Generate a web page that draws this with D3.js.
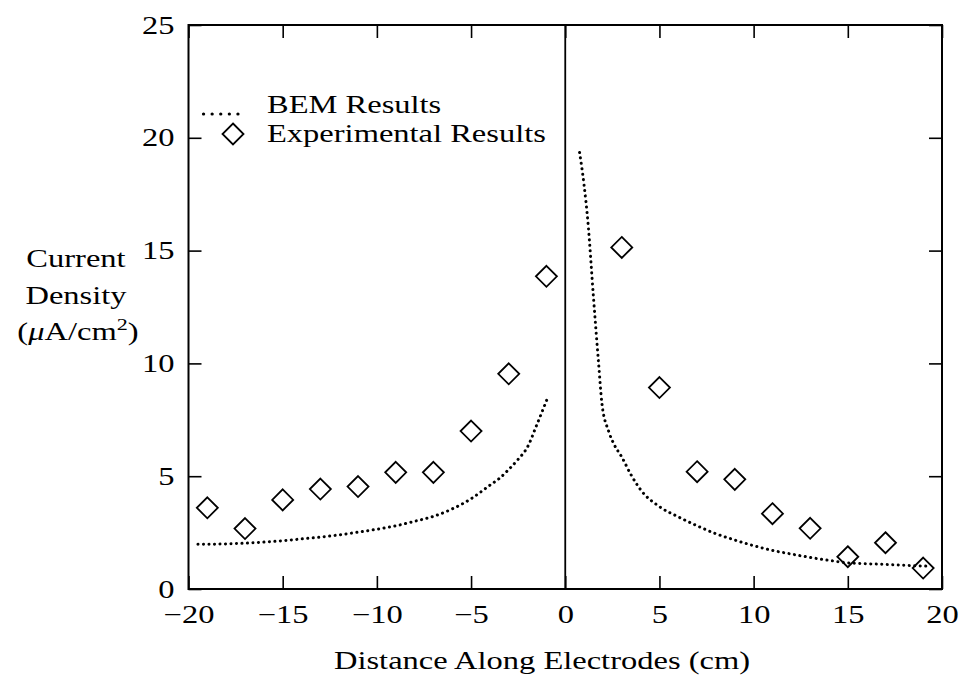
<!DOCTYPE html>
<html>
<head>
<meta charset="utf-8">
<script src="https://cdn.jsdelivr.net/npm/d3@7"></script>
<style>
  body { margin: 0; background: #fff; }
  svg text { font-family: "Liberation Serif", "DejaVu Serif", serif; fill: #000; }
</style>
</head>
<body>
<div id="chart"></div>
<script>
// Current density along electrodes: BEM model vs. measurements

var xTicks = [-20, -15, -10, -5, 0, 5, 10, 15, 20];
var yTicks = [0, 5, 10, 15, 20, 25];

// BEM results, left of the gap (x < 0)
var bemLeftX = [-19.5, -18, -17, -16, -15, -14, -13, -12, -11, -10, -9, -8, -7, -6, -5, -4, -3.5, -3, -2.5, -2, -1.5, -0.9];
var bemLeftY = [1.98, 2.0, 2.03, 2.08, 2.14, 2.22, 2.3, 2.4, 2.52, 2.65, 2.8, 3.0, 3.22, 3.55, 4.0, 4.6, 4.9, 5.3, 5.75, 6.3, 7.3, 8.55];

// BEM results, right of the gap (x > 0)
var bemRightX = [0.76, 1.0, 1.2, 1.5, 1.77, 1.95, 2.3, 2.6, 3, 3.5, 4, 5, 6, 7, 8, 9, 10, 11, 12, 13, 14, 15, 16, 17, 18, 19.3];
var bemRightY = [19.35, 17.9, 16.3, 12.9, 10.0, 8.2, 7.0, 6.4, 5.85, 5.05, 4.4, 3.65, 3.2, 2.8, 2.45, 2.17, 1.92, 1.71, 1.55, 1.4, 1.27, 1.16, 1.12, 1.09, 1.05, 1.01];

// Experimental results
var expX = [-19, -17, -15, -13, -11, -9, -7, -5, -3, -1, 3, 5, 7, 9, 11, 13, 15, 17, 19];
var expY = [3.6, 2.68, 3.95, 4.43, 4.54, 5.17, 5.17, 7.0, 9.54, 13.86, 15.14, 8.93, 5.2, 4.86, 3.34, 2.69, 1.43, 2.05, 0.93];

var totalW = 961, totalH = 679;
var margin = { top: 25, right: 19, bottom: 90, left: 188.5 };
var width = totalW - margin.left - margin.right;
var height = totalH - margin.top - margin.bottom;
var fontSize = "25px";
var stretch = 1.3;   // the scanned lettering is wide; widen glyphs to match

var svg = d3.select("#chart").append("svg")
    .attr("width", totalW)
    .attr("height", totalH);

var g = svg.append("g")
    .attr("transform", "translate(" + margin.left + "," + margin.top + ")");

var x = d3.scaleLinear().domain([-20, 20]).range([0, width]);
var y = d3.scaleLinear().domain([0, 25]).range([height, 0]);

var tickLen = 13;

// --- Axes (ticks point inward on all four sides) ---
g.append("g")
    .attr("transform", "translate(0," + height + ")")
    .call(d3.axisBottom(x).tickValues(xTicks).tickSizeInner(-tickLen).tickSizeOuter(0).tickPadding(16))
    .selectAll("text").style("font-size", fontSize);

g.append("g")
    .call(d3.axisLeft(y).tickValues(yTicks).tickSizeInner(-tickLen).tickSizeOuter(0).tickPadding(14))
    .selectAll("text").style("font-size", fontSize);

g.append("g")
    .call(d3.axisTop(x).tickValues(xTicks).tickSizeInner(-tickLen).tickSizeOuter(0).tickFormat(""));

g.append("g")
    .attr("transform", "translate(" + width + ",0)")
    .call(d3.axisRight(y).tickValues(yTicks).tickSizeInner(-tickLen).tickSizeOuter(0).tickFormat(""));

g.selectAll(".domain").remove();
g.selectAll(".tick line").attr("stroke", "#000").attr("stroke-width", 1.6);

// frame
g.append("rect")
    .attr("width", width)
    .attr("height", height)
    .attr("fill", "none")
    .attr("stroke", "#000")
    .attr("stroke-width", 2);

// zero line
g.append("line")
    .attr("x1", x(0)).attr("x2", x(0))
    .attr("y1", 0).attr("y2", height)
    .attr("stroke", "#000")
    .attr("stroke-width", 1.8);

// --- BEM dotted curves ---
var lineGen = d3.line()
    .x(function(d) { return x(d[0]); })
    .y(function(d) { return y(d[1]); })
    .curve(d3.curveMonotoneX);

[[bemLeftX, bemLeftY], [bemRightX, bemRightY]].forEach(function(s) {
    var pts = s[0].map(function(v, i) { return [v, s[1][i]]; });
    g.append("path")
        .datum(pts)
        .attr("fill", "none")
        .attr("stroke", "#000")
        .attr("stroke-width", 3)
        .attr("stroke-linecap", "round")
        .attr("stroke-dasharray", "0.1,5.4")
        .attr("d", lineGen);
});

// --- Experimental diamonds ---
var dHalf = 10.5;
function diamond(cx, cy) {
    return "M" + cx + "," + (cy - dHalf) + "L" + (cx + dHalf) + "," + cy +
        "L" + cx + "," + (cy + dHalf) + "L" + (cx - dHalf) + "," + cy + "Z";
}

g.selectAll(".exp")
    .data(expX.map(function(v, i) { return [v, expY[i]]; }))
    .enter().append("path")
    .attr("class", "exp")
    .attr("fill", "none")
    .attr("stroke", "#000")
    .attr("stroke-width", 1.8)
    .attr("d", function(d) { return diamond(x(d[0]), y(d[1])); });

// --- Legend ---
var lg = svg.append("g");
lg.append("line")
    .attr("x1", 203.5).attr("x2", 240)
    .attr("y1", 114).attr("y2", 114)
    .attr("stroke", "#000")
    .attr("stroke-width", 3.2)
    .attr("stroke-linecap", "round")
    .attr("stroke-dasharray", "0.1,8.5");
lg.append("text")
    .attr("x", 267).attr("y", 113)
    .style("font-size", fontSize)
    .text("BEM Results");
lg.append("path")
    .attr("fill", "none")
    .attr("stroke", "#000")
    .attr("stroke-width", 1.8)
    .attr("d", diamond(233, 134));
lg.append("text")
    .attr("x", 267).attr("y", 142)
    .style("font-size", fontSize)
    .text("Experimental Results");

// --- Axis titles ---
svg.append("text")
    .attr("x", 542).attr("y", 669)
    .attr("text-anchor", "middle")
    .style("font-size", fontSize)
    .text("Distance Along Electrodes (cm)");

svg.append("text")
    .attr("x", 76).attr("y", 267)
    .attr("text-anchor", "middle")
    .style("font-size", fontSize)
    .text("Current");
svg.append("text")
    .attr("x", 76).attr("y", 304)
    .attr("text-anchor", "middle")
    .style("font-size", fontSize)
    .text("Density");
var t3 = svg.append("text")
    .attr("x", 78).attr("y", 340)
    .attr("text-anchor", "middle")
    .style("font-size", fontSize);
t3.append("tspan").text("(");
t3.append("tspan").style("font-style", "italic").text("μ");
t3.append("tspan").text("A/cm");
t3.append("tspan").attr("dy", -10).style("font-size", "17px").text("2");
t3.append("tspan").attr("dy", 10).text(")");

// widen every label
svg.selectAll("text").each(function() {
    var w = this.getComputedTextLength();
    if (w > 0) {
        d3.select(this)
            .attr("textLength", w * stretch)
            .attr("lengthAdjust", "spacingAndGlyphs");
    }
});
</script>
</body>
</html>
